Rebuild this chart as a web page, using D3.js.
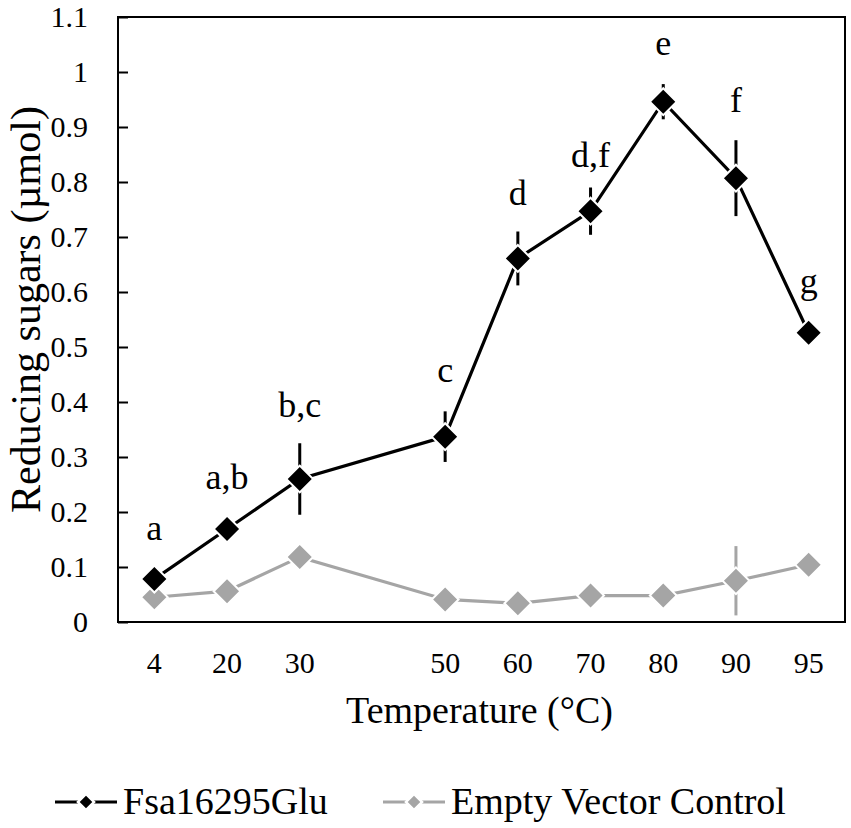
<!DOCTYPE html>
<html>
<head>
  <title>Reducing sugars vs temperature</title>
  <style>
    body {
      margin: 0;
      background: #fff;
    }
    svg text {
      font-family: "Liberation Serif", "DejaVu Serif", serif !important;
    }
  </style>
</head>
<body>
  <svg id="chart"></svg>

  <script src="https://d3js.org/d3.v7.min.js"></script>
  <script>
    // Temperature slots on the category axis (40 is an empty slot)
    const axisSlots = ["4", "20", "30", "40", "50", "60", "70", "80", "90", "95"];
    const temps = ["4", "20", "30", "50", "60", "70", "80", "90", "95"];

    // Fsa16295Glu
    const fsaValues = [0.078, 0.169, 0.26, 0.337, 0.661, 0.747, 0.946, 0.807, 0.526];
    const fsaErrors = [0.008, 0.008, 0.065, 0.046, 0.049, 0.043, 0.032, 0.069, 0.008];

    // Empty vector control
    const ctrlValues = [0.045, 0.056, 0.118, 0.041, 0.034, 0.048, 0.048, 0.075, 0.104];
    const ctrlErrors = [0.005, 0.005, 0.008, 0.005, 0.004, 0.005, 0.005, 0.063, 0.006];

    // significance letters and where their baseline sits (µmol)
    const letters = ["a", "a,b", "b,c", "c", "d", "d,f", "e", "f", "g"];
    const letterLevels = [0.149, 0.242, 0.373, 0.437, 0.758, 0.828, 1.031, 0.928, 0.598];

    const yTicks = [0, 0.1, 0.2, 0.3, 0.4, 0.5, 0.6, 0.7, 0.8, 0.9, 1, 1.1];
    const seriesNames = ["Fsa16295Glu", "Empty Vector Control"];
    const seriesColors = ["#000000", "#a5a5a5"];

    const FONT = "'Liberation Serif', 'DejaVu Serif', serif";

    const chart = () => {
      const width = 851;
      const height = 828;
      const left = 118, right = 845, top = 17, bottom = 622;

      const svg = d3.select("#chart")
        .attr("width", width)
        .attr("height", height)
        .style("font-family", FONT);

      const x = d3.scaleBand()
        .domain(axisSlots)
        .range([left, right])
        .padding(0);

      const cx = (t) => x(t) + x.bandwidth() / 2;

      const y = d3.scaleLinear()
        .domain([0, 1.1])
        .range([bottom, top]);

      // y axis, ticks pointing inwards
      svg.append("g")
        .attr("transform", `translate(${left},0)`)
        .call(d3.axisLeft(y)
          .tickValues(yTicks)
          .tickSize(-10)
          .tickPadding(30)
          .tickFormat((d) => String(d)))
        .attr("font-family", null)
        .attr("font-size", 30)
        .call((g) => g.select(".domain").remove())
        .call((g) => g.selectAll("line").attr("stroke", "#000").attr("stroke-width", 2))
        .call((g) => g.selectAll("text")
          .style("font-family", FONT)
          .attr("fill", "#000")
          .attr("dy", "0.33em"));

      // x axis labels only
      svg.append("g")
        .attr("transform", `translate(0,${bottom})`)
        .call(d3.axisBottom(x)
          .tickSize(0)
          .tickPadding(30)
          .tickFormat((d) => (temps.includes(d) ? d : "")))
        .attr("font-family", null)
        .attr("font-size", 30)
        .call((g) => g.select(".domain").remove())
        .call((g) => g.selectAll("text")
          .style("font-family", FONT)
          .attr("fill", "#000"));

      // plot frame
      svg.append("rect")
        .attr("x", left)
        .attr("y", top)
        .attr("width", right - left)
        .attr("height", bottom - top)
        .attr("fill", "none")
        .attr("stroke", "#000")
        .attr("stroke-width", 2);

      // axis titles
      svg.append("text")
        .attr("x", (left + right) / 2 - 2)
        .attr("y", 723)
        .attr("text-anchor", "middle")
        .attr("font-size", 38)
        .style("font-family", FONT)
        .text("Temperature (°C)");

      svg.append("text")
        .attr("transform", `translate(40,${(top + bottom) / 2 - 10}) rotate(-90)`)
        .attr("text-anchor", "middle")
        .attr("font-size", 42)
        .style("font-family", FONT)
        .text("Reducing sugars (µmol)");

      const line = d3.line()
        .x((d) => cx(d.t))
        .y((d) => y(d.v));

      const diamond = d3.symbol(d3.symbolSquare, 360);

      const drawSeries = (values, errors, color) => {
        const pts = temps.map((t, i) => ({ t, v: values[i], e: errors[i] }));
        const g = svg.append("g");

        g.append("path")
          .datum(pts)
          .attr("d", line)
          .attr("fill", "none")
          .attr("stroke", color)
          .attr("stroke-width", 3.2);

        g.selectAll(".err")
          .data(pts)
          .join("line")
          .attr("class", "err")
          .attr("x1", (d) => cx(d.t))
          .attr("x2", (d) => cx(d.t))
          .attr("y1", (d) => y(d.v - d.e))
          .attr("y2", (d) => y(d.v + d.e))
          .attr("stroke", color)
          .attr("stroke-width", 3);

        g.selectAll(".mark")
          .data(pts)
          .join("path")
          .attr("class", "mark")
          .attr("d", diamond)
          .attr("transform", (d) => `translate(${cx(d.t)},${y(d.v)}) rotate(45)`)
          .attr("fill", color)
          .attr("stroke", "#fff")
          .attr("stroke-width", 2);
      };

      drawSeries(ctrlValues, ctrlErrors, seriesColors[1]);
      drawSeries(fsaValues, fsaErrors, seriesColors[0]);

      // significance letters
      svg.append("g")
        .selectAll("text")
        .data(letters)
        .join("text")
        .attr("x", (d, i) => cx(temps[i]))
        .attr("y", (d, i) => y(letterLevels[i]))
        .attr("text-anchor", "middle")
        .attr("font-size", 36)
        .style("font-family", FONT)
        .text((d) => d);

      // legend
      const legendX = [55, 383];
      const legend = svg.append("g")
        .selectAll("g")
        .data(seriesNames)
        .join("g")
        .attr("transform", (d, i) => `translate(${legendX[i]},802)`);

      legend.append("line")
        .attr("x1", 0)
        .attr("x2", 62)
        .attr("stroke", (d, i) => seriesColors[i])
        .attr("stroke-width", 3.2);

      legend.append("path")
        .attr("d", d3.symbol(d3.symbolSquare, 130))
        .attr("transform", "translate(31,0) rotate(45)")
        .attr("fill", (d, i) => seriesColors[i])
        .attr("stroke", "#fff")
        .attr("stroke-width", 2.5);

      legend.append("text")
        .attr("x", 68)
        .attr("y", 12)
        .attr("font-size", 38)
        .style("font-family", FONT)
        .text((d) => d);
    };

    chart();
  </script>
</body>
</html>
